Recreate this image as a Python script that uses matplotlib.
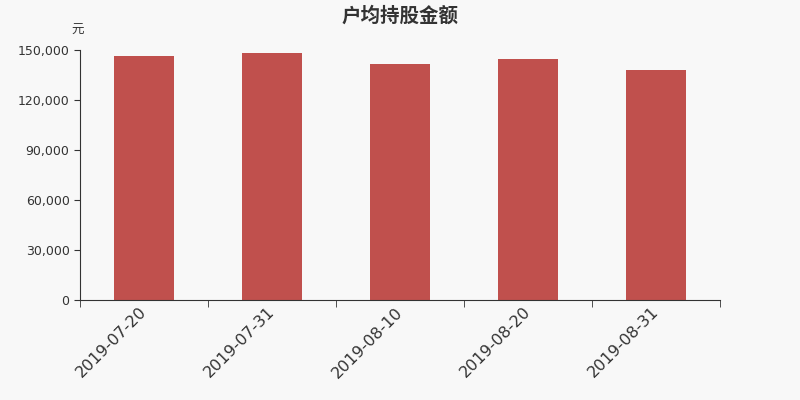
import numpy as np
import matplotlib
matplotlib.use("Agg")
import matplotlib.pyplot as plt
from matplotlib.ticker import FuncFormatter, FixedLocator

plt.rcParams['font.family'] = ['DejaVu Sans', 'Noto Sans CJK SC']

dates = ['2019-07-20', '2019-07-31', '2019-08-10', '2019-08-20', '2019-08-31']
values = [146200, 148200, 141800, 144400, 138000]
yticks = [0, 30000, 60000, 90000, 120000, 150000]

bg = '#f8f8f8'
fig = plt.figure(figsize=(8, 4), dpi=100, facecolor=bg)
ax = fig.add_axes([0.1, 0.25, 0.8, 0.625], facecolor=bg)

x = np.arange(len(dates))
ax.bar(x, values, width=0.47, color='#c0504d', zorder=2)

ax.set_xlim(-0.5, len(dates) - 0.5)
ax.set_ylim(0, 150000)
ax.set_yticks(yticks)
ax.yaxis.set_major_formatter(FuncFormatter(lambda v, p: f'{int(v):,}'))

ax.set_xticks(x)
ax.set_xticklabels(dates, rotation=45, ha='right', va='center', rotation_mode='anchor',
                   fontsize=11.5, color='#333333')
ax.xaxis.set_minor_locator(FixedLocator(np.arange(-0.5, len(dates), 1.0)))
ax.tick_params(axis='x', which='major', length=0, pad=7)
ax.tick_params(axis='x', which='minor', length=5, color='#333333', direction='out')
ax.tick_params(axis='y', length=4, color='#333333', labelsize=9, labelcolor='#333333')

for s in ['top', 'right']:
    ax.spines[s].set_visible(False)
for s in ['left', 'bottom']:
    ax.spines[s].set_color('#333333')

fig.text(0.5, 0.96, '户均持股金额', ha='center', va='center', fontsize=14, color='#333333', fontweight='bold')
fig.text(0.0975, 0.925, '元', ha='center', va='center', fontsize=9, color='#333333')

fig.savefig('out.png', dpi=100, facecolor=bg)
